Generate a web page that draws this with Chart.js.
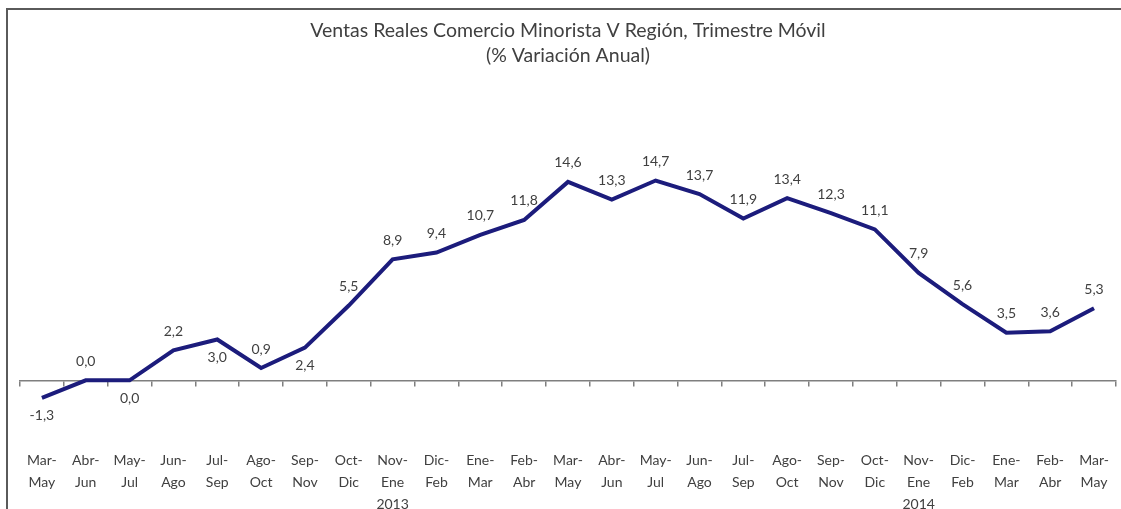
<!DOCTYPE html>
<html>
<head>
<meta charset="utf-8">
<script src="https://cdn.jsdelivr.net/npm/chart.js@4"></script>
<style>
  html, body { margin: 0; padding: 0; background: #fff; overflow: hidden; }
  #wrap { position: absolute; left: 0; top: 0; width: 1121px; height: 509px; }
  #frame { position: absolute; left: 6px; top: 8px; width: 1115px; height: 501px;
           border-top: 2px solid #5a5a5a; border-left: 2px solid #5a5a5a; box-sizing: border-box; pointer-events: none; }
</style>
</head>
<body>
<div id="wrap">
  <canvas id="c" width="1121" height="509"></canvas>
  <div id="frame"></div>
</div>
<script>
const titleLines = ['Ventas Reales Comercio Minorista V Región, Trimestre Móvil', '(% Variación Anual)'];
const categories = [
  ['Mar-', 'May'], ['Abr-', 'Jun'], ['May-', 'Jul'], ['Jun-', 'Ago'], ['Jul-', 'Sep'],
  ['Ago-', 'Oct'], ['Sep-', 'Nov'], ['Oct-', 'Dic'], ['Nov-', 'Ene', '2013'], ['Dic-', 'Feb'],
  ['Ene-', 'Mar'], ['Feb-', 'Abr'], ['Mar-', 'May'], ['Abr-', 'Jun'], ['May-', 'Jul'],
  ['Jun-', 'Ago'], ['Jul-', 'Sep'], ['Ago-', 'Oct'], ['Sep-', 'Nov'], ['Oct-', 'Dic'],
  ['Nov-', 'Ene', '2014'], ['Dic-', 'Feb'], ['Ene-', 'Mar'], ['Feb-', 'Abr'], ['Mar-', 'May']
];
const values = [-1.3, 0.0, 0.0, 2.2, 3.0, 0.9, 2.4, 5.5, 8.9, 9.4, 10.7, 11.8, 14.6, 13.3, 14.7,
                13.7, 11.9, 13.4, 12.3, 11.1, 7.9, 5.6, 3.5, 3.6, 5.3];
// label placement: 'below' or 'above'
const labelSide = ['below', 'above', 'below', 'above', 'below', 'above', 'below', 'above', 'above', 'above',
                   'above', 'above', 'above', 'above', 'above', 'above', 'above', 'above', 'above', 'above',
                   'above', 'above', 'above', 'above', 'above'];

const FONT = 'Lato, "Open Sans", sans-serif';
const TEXT = '#404040';

const dataLabels = {
  id: 'dataLabels',
  afterDatasetsDraw(chart) {
    const ctx = chart.ctx;
    const meta = chart.getDatasetMeta(0);
    ctx.save();
    ctx.font = '14px ' + FONT;
    ctx.fillStyle = TEXT;
    ctx.textAlign = 'center';
    ctx.textBaseline = 'middle';
    meta.data.forEach((pt, i) => {
      const v = chart.data.datasets[0].data[i];
      const txt = v.toFixed(1).replace('.', ',');
      const dy = labelSide[i] === 'below' ? 18 : -19;
      ctx.fillText(txt, pt.x, pt.y + dy);
    });
    ctx.restore();
  }
};

new Chart(document.getElementById('c'), {
  type: 'line',
  data: {
    labels: categories,
    datasets: [{
      data: values,
      borderColor: '#1c1c7c',
      borderWidth: 4,
      pointRadius: 0,
      tension: 0,
      fill: false,
      borderJoinStyle: 'miter'
    }]
  },
  options: {
    responsive: false,
    animation: false,
    layout: { padding: { left: 20, right: 2, top: 10, bottom: -18 } },
    plugins: {
      legend: { display: false },
      tooltip: { enabled: false },
      title: {
        display: true,
        text: titleLines,
        color: TEXT,
        fullSize: false,
        font: { family: FONT, size: 19.5, weight: 'normal', lineHeight: 1.29 },
        padding: { top: 8, bottom: 13 }
      }
    },
    scales: {
      x: {
        type: 'category',
        offset: true,
        position: 'bottom',
        grid: { display: false, drawTicks: false },
        border: { display: false },
        ticks: { color: TEXT, font: { family: FONT, size: 14, lineHeight: 1.55 }, padding: 12, maxRotation: 0, autoSkip: false }
      },
      x2: {
        type: 'category',
        offset: true,
        position: { y: 0 },
        grid: { display: true, drawOnChartArea: false, drawTicks: true, tickLength: 5, offset: true, color: '#7f7f7f', lineWidth: 1.5 },
        border: { display: true, color: '#7f7f7f', width: 1.5 },
        ticks: { display: false }
      },
      y: {
        display: false,
        min: -4.24,
        max: 22
      }
    }
  },
  plugins: [dataLabels]
});
</script>
</body>
</html>
